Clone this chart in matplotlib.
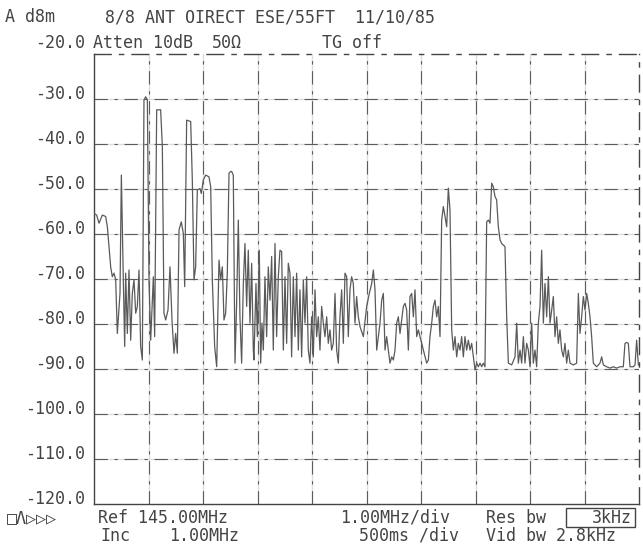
import matplotlib.pyplot as plt
from matplotlib.patches import Rectangle

# spectrum analyser trace (MHz, dBm)
freq_mhz = [
    140.000, 140.049, 140.092, 140.153, 140.214, 140.245, 140.275, 140.306, 140.336, 140.367,
    140.398, 140.428, 140.477, 140.502, 140.538, 140.563, 140.581, 140.612, 140.642, 140.673,
    140.703, 140.734, 140.765, 140.795, 140.826, 140.856, 140.887, 140.917, 140.948, 140.979,
    141.009, 141.040, 141.089, 141.113, 141.150, 141.223, 141.254, 141.284, 141.315, 141.358,
    141.394, 141.431, 141.468, 141.498, 141.529, 141.560, 141.602, 141.639, 141.664, 141.700,
    141.774, 141.804, 141.835, 141.865, 141.896, 141.945, 141.969, 142.006, 142.049, 142.110,
    142.141, 142.171, 142.214, 142.251, 142.294, 142.324, 142.355, 142.385, 142.416, 142.446,
    142.477, 142.508, 142.526, 142.556, 142.587, 142.617, 142.648, 142.678, 142.709, 142.740,
    142.770, 142.801, 142.831, 142.862, 142.893, 142.923, 142.935, 142.972, 142.997, 143.033,
    143.058, 143.082, 143.107, 143.137, 143.168, 143.198, 143.229, 143.260, 143.290, 143.321,
    143.351, 143.382, 143.412, 143.443, 143.474, 143.504, 143.535, 143.565, 143.596, 143.626,
    143.657, 143.688, 143.718, 143.749, 143.779, 143.810, 143.841, 143.871, 143.902, 143.932,
    143.963, 143.993, 144.024, 144.055, 144.085, 144.116, 144.146, 144.177, 144.208, 144.238,
    144.269, 144.299, 144.330, 144.360, 144.391, 144.422, 144.452, 144.483, 144.513, 144.544,
    144.575, 144.605, 144.636, 144.666, 144.697, 144.727, 144.758, 144.789, 144.819, 144.850,
    144.881, 144.942, 145.003, 145.052, 145.095, 145.126, 145.156, 145.187, 145.217, 145.248,
    145.279, 145.309, 145.340, 145.370, 145.401, 145.431, 145.462, 145.493, 145.523, 145.554,
    145.584, 145.615, 145.676, 145.707, 145.737, 145.768, 145.798, 145.829, 145.860, 145.890,
    145.921, 145.951, 145.982, 146.012, 146.043, 146.074, 146.104, 146.135, 146.165, 146.196,
    146.227, 146.257, 146.288, 146.318, 146.349, 146.379, 146.410, 146.441, 146.471, 146.502,
    146.532, 146.563, 146.594, 146.624, 146.655, 146.685, 146.716, 146.746, 146.777, 146.807,
    146.838, 146.869, 146.899, 146.930, 146.960, 146.991, 147.022, 147.052, 147.083, 147.113,
    147.144, 147.174, 147.205, 147.236, 147.266, 147.297, 147.327, 147.358, 147.388, 147.419,
    147.450, 147.480, 147.541, 147.572, 147.603, 147.664, 147.725, 147.756, 147.786, 147.817,
    147.847, 147.878, 147.908, 147.939, 147.970, 148.000, 148.031, 148.061, 148.092, 148.122,
    148.153, 148.184, 148.214, 148.245, 148.275, 148.306, 148.337, 148.367, 148.398, 148.428,
    148.459, 148.489, 148.520, 148.550, 148.581, 148.612, 148.642, 148.673, 148.703, 148.734,
    148.795, 148.856, 148.887, 148.917, 148.948, 148.979, 149.009, 149.040, 149.070, 149.101,
    149.131, 149.162, 149.193, 149.223, 149.284, 149.315, 149.346, 149.407, 149.468, 149.529,
    149.590, 149.651, 149.712, 149.743, 149.774, 149.804, 149.835, 149.896, 149.927, 149.957,
    149.988, 150.049,
]
level_dbm = [
    -55.4, -55.8, -57.6, -55.8, -56.1, -58.4, -62.8, -67.3, -69.5, -68.7,
    -70.2, -82.1, -73.2, -46.9, -70.2, -85.0, -68.7, -82.1, -68.0, -83.6,
    -73.2, -70.2, -77.6, -76.1, -68.0, -85.0, -88.0, -30.2, -29.5, -30.2,
    -70.2, -83.6, -69.5, -82.8, -32.4, -32.4, -40.6, -77.6, -79.1, -76.9,
    -67.3, -79.1, -86.5, -82.1, -86.5, -59.1, -57.3, -59.9, -71.7, -34.7,
    -35.0, -48.0, -70.2, -67.3, -50.2, -49.9, -51.0, -48.0, -46.9, -47.3,
    -49.5, -70.2, -85.0, -89.5, -65.8, -70.2, -67.3, -79.1, -77.6, -68.7,
    -46.5, -46.1, -46.1, -46.9, -88.7, -75.4, -56.9, -78.4, -88.7, -71.0,
    -62.1, -76.1, -63.6, -79.8, -66.5, -85.8, -88.0, -71.0, -82.8, -63.6,
    -88.7, -79.8, -85.8, -69.5, -82.8, -67.3, -74.7, -65.0, -85.8, -62.1,
    -82.8, -69.5, -63.6, -63.9, -85.8, -69.5, -84.3, -66.5, -68.7, -87.3,
    -69.5, -82.8, -68.7, -85.8, -72.4, -87.3, -70.2, -79.8, -69.5, -85.8,
    -88.7, -78.4, -87.3, -72.4, -82.8, -78.4, -85.8, -76.1, -79.8, -82.8,
    -78.4, -84.3, -81.3, -85.8, -84.3, -73.2, -85.8, -88.7, -78.4, -72.4,
    -84.3, -68.7, -69.5, -82.8, -72.4, -69.5, -71.0, -79.8, -73.9, -78.4,
    -80.6, -82.8, -76.1, -73.2, -71.0, -68.0, -72.4, -85.8, -82.8, -79.8,
    -74.7, -73.2, -85.8, -82.8, -85.8, -88.7, -87.3, -88.0, -85.8, -79.8,
    -78.4, -82.1, -76.1, -75.4, -76.9, -85.8, -73.9, -73.2, -78.4, -72.4,
    -82.8, -81.3, -82.8, -84.3, -85.8, -87.3, -88.7, -88.0, -82.8, -79.8,
    -76.1, -74.7, -78.4, -76.1, -82.8, -56.9, -53.9, -56.1, -58.4, -49.8,
    -54.7, -81.3, -85.8, -82.8, -87.3, -84.3, -85.8, -82.8, -87.3, -82.8,
    -85.8, -83.6, -85.8, -84.3, -87.3, -90.2, -88.7, -89.5, -88.7, -89.5,
    -88.7, -89.5, -57.3, -56.9, -57.6, -48.7, -49.5, -51.7, -52.4, -58.4,
    -61.3, -62.1, -62.8, -78.4, -88.7, -89.1, -87.3, -79.8, -88.7, -85.8,
    -88.7, -82.8, -88.7, -84.3, -85.8, -89.5, -79.8, -88.7, -85.8, -89.5,
    -79.8, -76.1, -63.6, -79.8, -71.0, -78.4, -69.5, -79.8, -76.9, -73.9,
    -82.8, -78.4, -84.3, -81.3, -85.8, -87.3, -84.3, -88.7, -85.8, -88.7,
    -89.1, -88.7, -73.2, -82.1, -78.4, -73.9, -76.9, -73.2, -75.4, -78.4,
    -82.8, -88.7, -89.1, -89.5, -88.7, -87.3, -89.1, -89.5, -89.8, -89.5,
    -89.8, -89.5, -89.5, -84.3, -84.1, -84.3, -89.5, -89.5, -89.1, -83.6,
    -89.1, -89.5,
]

y_levels = [-30, -40, -50, -60, -70, -80, -90, -100, -110, -120]
y_labels = ["-30.0", "-40.0", "-50.0", "-60.0", "-70.0", "-80.0", "-90.0",
            "-100.0", "-110.0", "-120.0"]

ink = "#444444"
grid_ink = "#5c5c5c"
mono = ["DejaVu Sans Mono", "DejaVu Sans"]
fs = 12
dash = (12, 6, 3, 6)

fig = plt.figure(figsize=(6.43, 5.46), dpi=100)
ax = fig.add_axes([94 / 643, 42 / 546, 545 / 643, 450 / 546])

ax.set_xlim(140, 150)
ax.set_ylim(-120, -20)

# grid: faint continuous line plus plotter dashes on top
for gx in range(141, 150):
    ax.axvline(gx, color="#dddddd", lw=1.0, zorder=1)
    ax.axvline(gx, color=grid_ink, lw=0.8, dashes=dash, zorder=1)
for gy in range(-110, -20, 10):
    ax.axhline(gy, color="#dddddd", lw=1.0, zorder=1)
    ax.axhline(gy, color=grid_ink, lw=0.8, dashes=dash, zorder=1)

ax.plot(freq_mhz, level_dbm, color="#5a5a5a", lw=0.9, zorder=3)

ax.set_xticks([])
ax.set_yticks([])
for side in ["top", "bottom", "left", "right"]:
    ax.spines[side].set_color(ink)
    ax.spines[side].set_linewidth(1.0)
ax.spines["top"].set_linestyle((0, dash))
ax.spines["right"].set_linestyle((0, dash))

for lev, lab in zip(y_levels, y_labels):
    ax.text(-0.016, lev, lab, transform=ax.get_yaxis_transform(), ha="right",
            va="baseline", family=mono, fontsize=fs, color=ink)


def put(x, y, s, ha="left"):
    fig.text(x / 643, 1 - y / 546, s, ha=ha, va="center", family=mono,
             fontsize=fs, color=ink)


put(5, 17, "A d8m")
put(105, 17, "8/8 ANT OIRECT ESE/55FT  11/10/85")
put(85, 43, "-20.0", ha="right")
put(93, 43, "Atten 10dB")
put(212, 43, "50Ω")
put(322, 43, "TG off")

put(7, 518, "□Λ▷▷▷")
put(98, 518, "Ref 145.00MHz")
put(340, 518, "1.00MHz/div")
put(486, 518, "Res bw")
put(632, 518, "3kHz", ha="right")
put(100, 536, "Inc")
put(239, 536, "1.00MHz", ha="right")
put(459, 536, "500ms /div", ha="right")
put(486, 536, "Vid bw 2.8kHz")

fig.patches.append(Rectangle((566 / 643, 1 - 527 / 546), 69 / 643, 19 / 546,
                             transform=fig.transFigure, fill=False,
                             edgecolor=ink, lw=1.0))

fig.savefig("out.png", dpi=100)
